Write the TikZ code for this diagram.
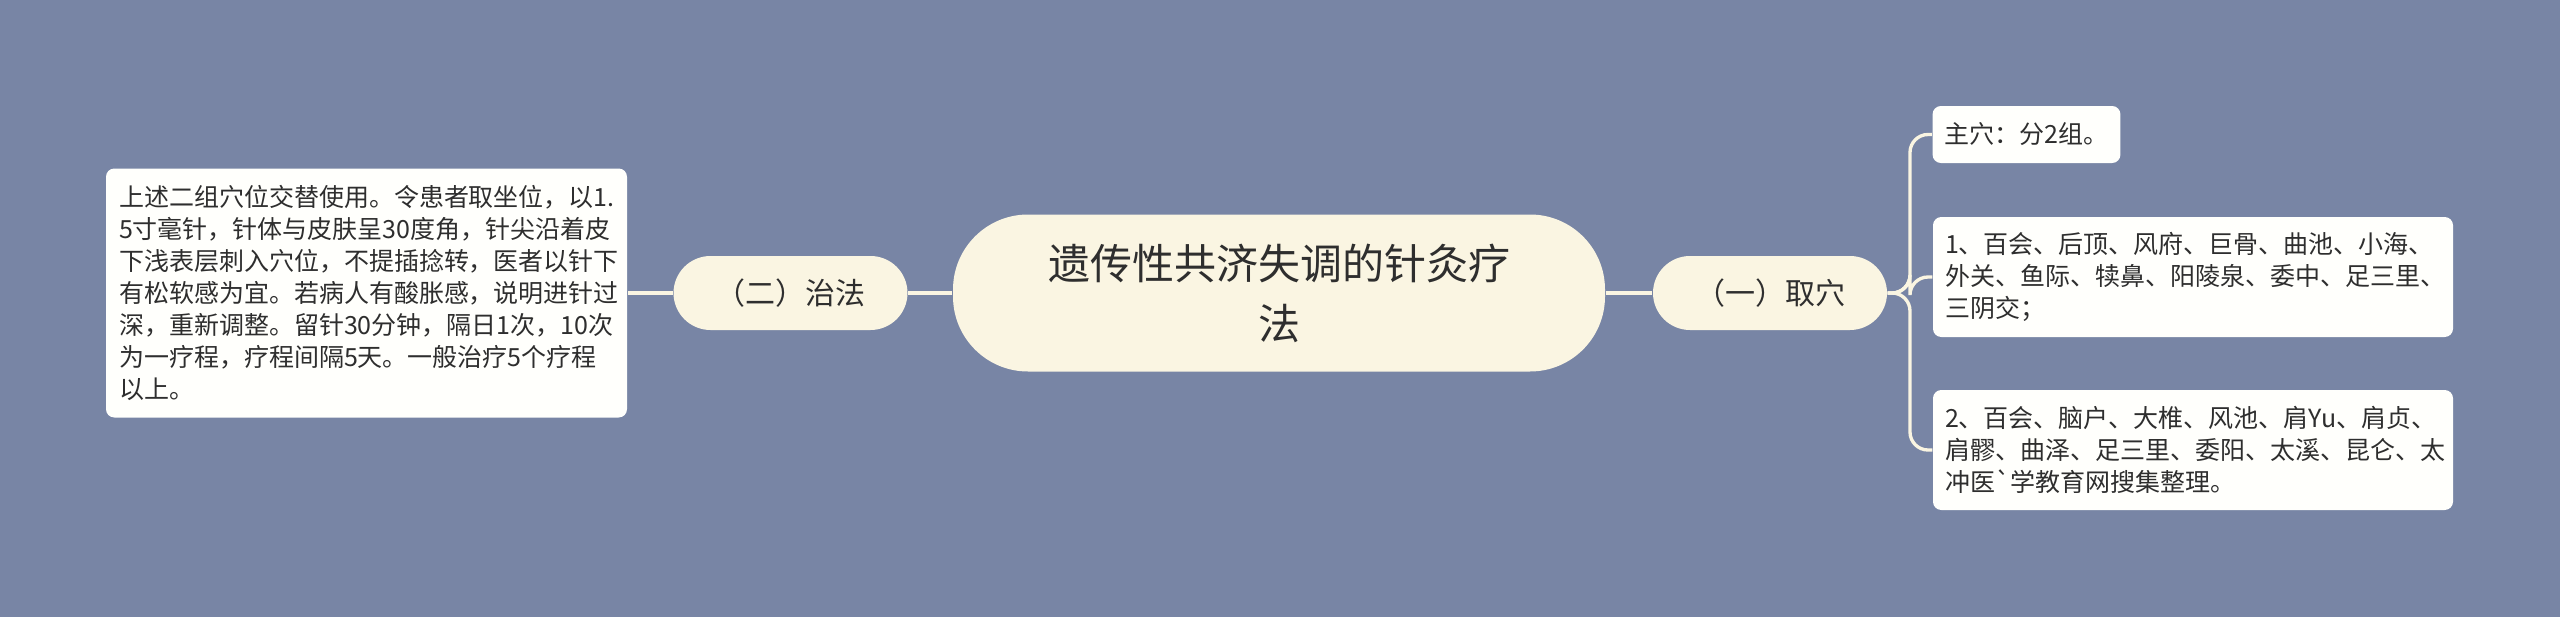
\documentclass[tikz,border=0pt]{standalone}
\usepackage{fontspec}
\newfontfamily\cjk{Noto Sans CJK SC}
\definecolor{bgblue}{HTML}{7885A5}
\definecolor{cream}{HTML}{FAF5E2}
\definecolor{leafwhite}{HTML}{FFFFFC}
\definecolor{inkgray}{HTML}{2E2E2E}
\tikzset{
  root/.style={fill=cream, rounded corners=22.5pt, minimum width=195.6pt, minimum height=47.1pt,
    align=center, text=inkgray, font=\cjk\fontsize{12.6}{18}\selectfont},
  branch/.style={fill=cream, rounded corners=11.1pt, minimum width=70.2pt, minimum height=22.2pt,
    text=inkgray, font=\cjk\fontsize{9}{11}\selectfont},
  leaf/.style={fill=leafwhite, rounded corners=2.5pt, align=left, inner xsep=3.6pt,
    text=inkgray, font=\cjk\fontsize{7.5}{9.6}\selectfont},
  link/.style={draw=cream, line width=1pt},
}
\begin{document}
\begin{tikzpicture}[x=0.3pt, y=-0.3pt]
        \fill[bgblue] (0,0) rectangle (2560,617);
        \useasboundingbox (0,0) rectangle (2560,617);

        \node[root] (root) at (1279,293) {遗传性共济失调的针灸疗\\法};
        \node[branch] (zhifa) at (790.5,293) {（二）治法};
        \node[branch] (quxue) at (1770,293) {（一）取穴};

        % left leaf
        \node[leaf, text width=148.5pt, minimum height=74.7pt, inner xsep=3.9pt] (fangfa) at (366.5,293)
          {上述二组穴位交替使用。令患者取坐位，以1.\\5寸毫针，针体与皮肤呈30度角，针尖沿着皮\\下浅表层刺入穴位，不提插捻转，医者以针下\\有松软感为宜。若病人有酸胀感，说明进针过\\深，重新调整。留针30分钟，隔日1次，10次\\为一疗程，疗程间隔5天。一般治疗5个疗程\\以上。};

        % right leaves
        \node[leaf, minimum width=56.1pt, minimum height=17.1pt] (zhuxue) at (2026.5,134.5) {主穴：分2组。};
        \node[leaf, text width=148.8pt, minimum height=36pt] (zuyi) at (2193,277)
          {1、百会、后顶、风府、巨骨、曲池、小海、\\外关、鱼际、犊鼻、阳陵泉、委中、足三里、\\三阴交；};
        \node[leaf, text width=148.8pt, minimum height=36pt] (zuer) at (2193,450)
          {2、百会、脑户、大椎、风池、肩Yu、肩贞、\\肩髎、曲泽、足三里、委阳、太溪、昆仑、太\\冲医\char"60 学教育网搜集整理。};

        \coordinate (fork) at (1910,293);

        % left side
        \draw[link] (root.west) -- (zhifa.east);
        \draw[link] (zhifa.west) -- (fangfa.east);

        % right side
        \draw[link] (root.east) -- (quxue.west);
        \draw[link, rounded corners=5.4pt] (quxue.east) -- (fork) |- (zhuxue.west);
        \draw[link, rounded corners=5.4pt] (quxue.east) -- (fork) |- (zuyi.west);
        \draw[link, rounded corners=5.4pt] (quxue.east) -- (fork) |- (zuer.west);
    \end{tikzpicture}
\end{document}
